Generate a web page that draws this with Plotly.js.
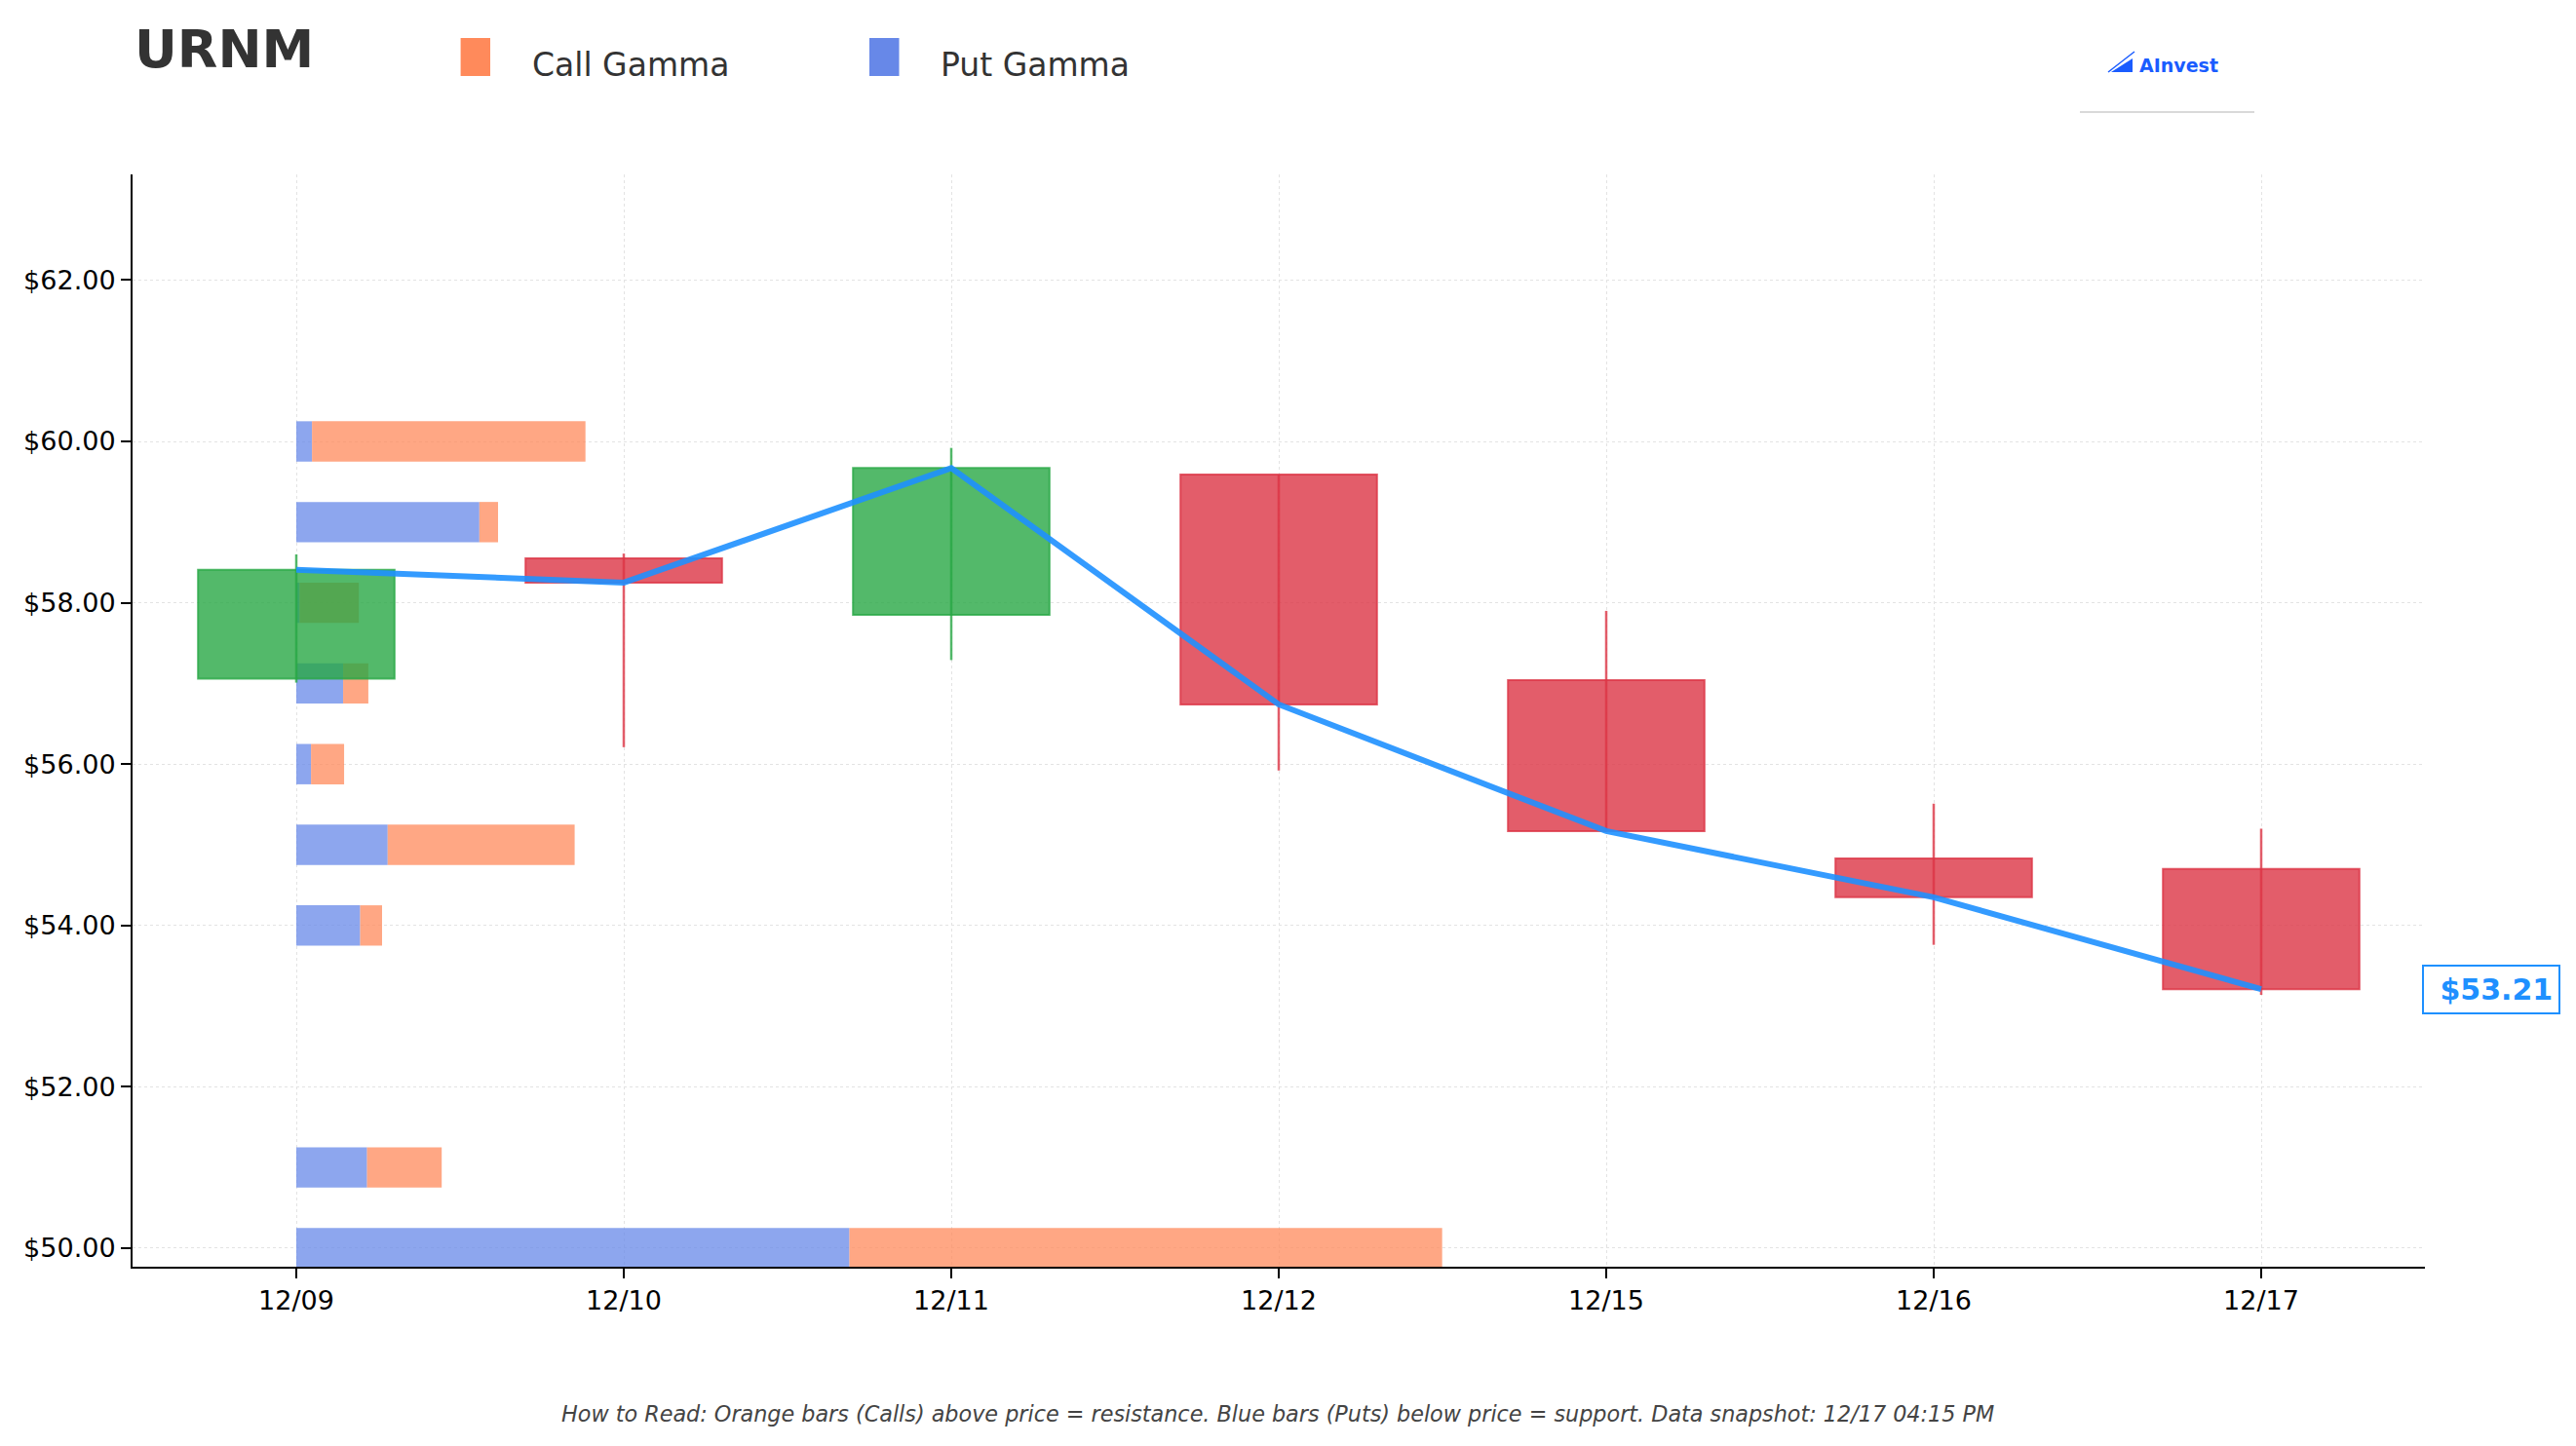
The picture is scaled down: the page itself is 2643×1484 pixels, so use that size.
<!DOCTYPE html>
<html>
<head>
<meta charset="utf-8">
<script src="https://cdn.plot.ly/plotly-3.0.1.min.js"></script>
<style>html,body{margin:0;padding:0;background:#fff;}#chart{width:2643px;height:1484px;}</style>
</head>
<body>
<div id="chart"></div>
<script>
// ---- data ----
const dates = ['12/09', '12/10', '12/11', '12/12', '12/15', '12/16', '12/17'];
const openP  = [57.06, 58.55, 57.85, 59.59, 57.04, 54.83, 54.70];
const highP  = [58.60, 58.61, 59.92, 59.59, 57.90, 55.51, 55.20];
const lowP   = [57.01, 56.21, 57.29, 55.92, 55.16, 53.76, 53.14];
const closeP = [58.41, 58.25, 59.67, 56.74, 55.17, 54.35, 53.21];

const strikes   = [50, 51, 54, 55, 56, 57, 58, 59, 60];
const putGamma  = [1.689, 0.216, 0.195, 0.279, 0.045, 0.143, 0.010, 0.559, 0.048];
const callGamma = [1.810, 0.228, 0.067, 0.571, 0.101, 0.077, 0.181, 0.057, 0.835];

const yTickVals = [50, 52, 54, 56, 58, 60, 62];
const yTickText = ['$50.00', '$52.00', '$54.00', '$56.00', '$58.00', '$60.00', '$62.00'];
const lastPriceLabel = '$53.21';

// ---- layout helpers (pixel -> paper) ----
const W = 2643, H = 1484;
const L = 136, R = 2488, T = 179, B = 1300;
const fx = p => (p - L) / (R - L);
const fy = p => (B - p) / (B - T);

const idx = dates.map((d, i) => i);
const UP = '40,167,69', DN = '220,53,69';
const isUp = idx.map(i => closeP[i] >= openP[i]);

const traces = [];
// gamma bars (horizontal, starting at the first date)
traces.push({
  type: 'bar', orientation: 'h', y: strikes, x: putGamma, base: 0, width: 0.5,
  marker: {color: 'rgba(103,136,232,0.75)', line: {width: 0}}, name: 'Put Gamma', showlegend: false
});
traces.push({
  type: 'bar', orientation: 'h', y: strikes, x: callGamma, base: putGamma, width: 0.5,
  marker: {color: 'rgba(255,138,91,0.75)', line: {width: 0}}, name: 'Call Gamma', showlegend: false
});
// candle bodies
traces.push({
  type: 'bar', x: idx, y: idx.map(i => Math.abs(closeP[i] - openP[i])),
  base: idx.map(i => Math.min(openP[i], closeP[i])), width: 0.6,
  marker: {
    color: idx.map(i => 'rgba(' + (isUp[i] ? UP : DN) + ',0.8)'),
    line: {color: idx.map(i => 'rgba(' + (isUp[i] ? UP : DN) + ',0.8)'), width: 2}
  },
  showlegend: false
});
// wicks
function wick(up) {
  const xs = [], ys = [];
  idx.forEach(i => { if (isUp[i] === up) { xs.push(i, i, null); ys.push(lowP[i], highP[i], null); } });
  return {type: 'scatter', mode: 'lines', x: xs, y: ys,
    line: {color: 'rgba(' + (up ? UP : DN) + ',0.8)', width: 2.5}, showlegend: false};
}
traces.push(wick(true));
traces.push(wick(false));
// close line
traces.push({
  type: 'scatter', mode: 'lines', x: idx, y: closeP,
  line: {color: 'rgba(30,144,255,0.9)', width: 6}, showlegend: false
});

const font = 'DejaVu Sans';
const layout = {
  width: W, height: H,
  margin: {l: L, r: W - R, t: T, b: H - B, pad: 0},
  paper_bgcolor: '#ffffff', plot_bgcolor: '#ffffff',
  barmode: 'overlay',
  showlegend: false,
  font: {family: font, color: '#000'},
  title: {
    text: '<b>URNM</b>', xref: 'container', yref: 'container',
    x: 138 / W, xanchor: 'left', y: 1 - 50 / H, yanchor: 'middle',
    font: {family: font, size: 54, color: '#333333'}
  },
  xaxis: {
    range: [-0.5, 6.5], tickmode: 'array', tickvals: idx, ticktext: dates,
    showline: true, linecolor: '#000', linewidth: 2, ticks: 'outside', ticklen: 10, tickwidth: 2, tickcolor: '#000',
    tickfont: {family: font, size: 27, color: '#000'},
    showgrid: true, gridcolor: '#e3e3e3', gridwidth: 1, griddash: 'dot', zeroline: false
  },
  yaxis: {
    range: [49.77, 63.31], tickmode: 'array', tickvals: yTickVals, ticktext: yTickText,
    showline: true, linecolor: '#000', linewidth: 2, ticks: 'outside', ticklen: 10, tickwidth: 2, tickcolor: '#000',
    tickfont: {family: font, size: 27, color: '#000'},
    showgrid: true, gridcolor: '#e3e3e3', gridwidth: 1, griddash: 'dot', zeroline: false
  },
  shapes: [
    {type: 'rect', xref: 'paper', yref: 'paper', x0: fx(472.6), x1: fx(503), y0: fy(78), y1: fy(39),
     fillcolor: '#FF8A5B', line: {width: 0}},
    {type: 'rect', xref: 'paper', yref: 'paper', x0: fx(892), x1: fx(922.5), y0: fy(78), y1: fy(39),
     fillcolor: '#6788E8', line: {width: 0}},
    {type: 'line', xref: 'paper', yref: 'paper', x0: fx(2134), x1: fx(2313), y0: fy(115), y1: fy(115),
     line: {color: '#cccccc', width: 1.5}},
    {type: 'path', xref: 'paper', yref: 'paper',
     path: 'M ' + fx(2166) + ',' + fy(74) + ' L ' + fx(2188) + ',' + fy(74) + ' L ' + fx(2188) + ',' + fy(60) + ' Z',
     fillcolor: '#1a5cff', line: {width: 0}},
    {type: 'line', xref: 'paper', yref: 'paper', x0: fx(2163), y0: fy(74), x1: fx(2190), y1: fy(53),
     line: {color: '#1a5cff', width: 1.5}}
  ],
  annotations: [
    {xref: 'paper', yref: 'paper', x: fx(544), y: fy(66.4), xanchor: 'left', yanchor: 'middle', showarrow: false,
     text: 'Call Gamma', font: {family: font, size: 33, color: '#333333'}},
    {xref: 'paper', yref: 'paper', x: fx(963), y: fy(66.4), xanchor: 'left', yanchor: 'middle', showarrow: false,
     text: 'Put Gamma', font: {family: font, size: 33, color: '#333333'}},
    {xref: 'paper', yref: 'paper', x: fx(2193), y: fy(66.8), xanchor: 'left', yanchor: 'middle', showarrow: false,
     text: '<b>AInvest</b>', font: {family: font, size: 19, color: '#1a5cff'}},
    {xref: 'paper', yref: 'y', x: fx(2485), y: closeP[closeP.length - 1], xanchor: 'left', yanchor: 'middle',
     showarrow: false, text: '<b>\u00a0' + lastPriceLabel + '</b>', bgcolor: '#ffffff',
     bordercolor: '#1E90FF', borderwidth: 2, borderpad: 6,
     font: {family: font, size: 30, color: '#1E90FF'}},
    {xref: 'paper', yref: 'paper', x: fx(1311), y: fy(1451.4), xanchor: 'center', yanchor: 'middle', showarrow: false,
     text: 'How to Read: Orange bars (Calls) above price = resistance. Blue bars (Puts) below price = support. Data snapshot: 12/17 04:15 PM',
     font: {family: font, size: 22.3, color: '#444444', style: 'italic'}}
  ]
};

Plotly.newPlot('chart', traces, layout, {staticPlot: true, displayModeBar: false});
</script>
</body>
</html>
